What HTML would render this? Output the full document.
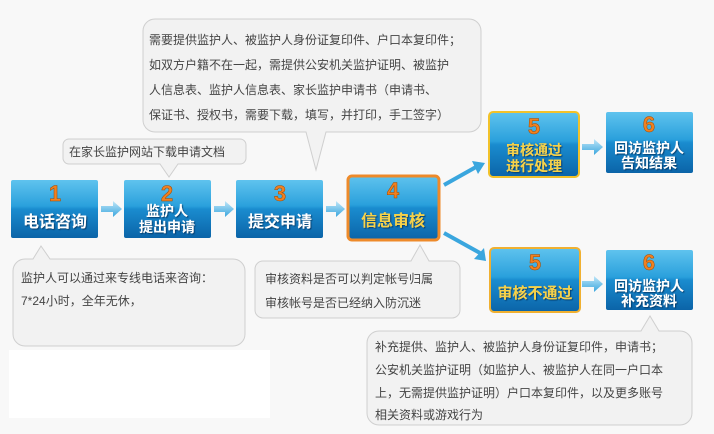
<!DOCTYPE html>
<html><head><meta charset="utf-8"><style>
html,body{margin:0;padding:0;background:#f8f8f8;}
svg{display:block;font-family:"Liberation Sans","Noto Sans CJK SC","WenQuanYi Zen Hei",sans-serif;}
</style></head><body>
<svg width="714" height="434" viewBox="0 0 714 434" xmlns="http://www.w3.org/2000/svg">
<defs>
<linearGradient id="bg" x1="0" y1="0" x2="0" y2="1">
<stop offset="0" stop-color="#5fc3ee"/><stop offset="0.45" stop-color="#2aa0dc"/><stop offset="0.5" stop-color="#1a8ccf"/><stop offset="1" stop-color="#0b64a8"/>
</linearGradient>
<linearGradient id="ar" x1="0" y1="0" x2="0" y2="1"><stop offset="0" stop-color="#bfe6f8"/><stop offset="1" stop-color="#3aa6de"/></linearGradient>
<filter id="sh" x="-10%" y="-10%" width="130%" height="140%"><feDropShadow dx="1" dy="1" stdDeviation="0.6" flood-color="#00325a" flood-opacity="0.8"/></filter>
</defs>
<rect x="9" y="350" width="261" height="68" fill="#fff"/>
<g fill="#f2f2f2" stroke="#cfcfcf" stroke-width="1">
<path d="M155,19 H469 a12,12 0 0 1 12,12 V120 a12,12 0 0 1 -12,12 H326 L316,170 L306,132 H155 a12,12 0 0 1 -12,-12 V31 a12,12 0 0 1 12,-12 Z"/>
<path d="M69,139 H240 a6,6 0 0 1 6,6 V158 a6,6 0 0 1 -6,6 H178 L169,177 L160,164 H69 a6,6 0 0 1 -6,-6 V145 a6,6 0 0 1 6,-6 Z"/>
<path d="M25,259 H33 L41,246 L50,259 H233 a12,12 0 0 1 12,12 V334 a12,12 0 0 1 -12,12 H25 a12,12 0 0 1 -12,-12 V271 a12,12 0 0 1 12,-12 Z"/>
<path d="M263,261 H411 L420,245 L429,261 H452 a8,8 0 0 1 8,8 V310 a8,8 0 0 1 -8,8 H263 a8,8 0 0 1 -8,-8 V269 a8,8 0 0 1 8,-8 Z"/>
<path d="M379,331 H641 L650,316 L659,331 H680 a12,12 0 0 1 12,12 V413 a12,12 0 0 1 -12,12 H379 a12,12 0 0 1 -12,-12 V343 a12,12 0 0 1 12,-12 Z"/>
</g>
<g font-size="12" fill="#444">
<text x="149" y="44">需要提供监护人、被监护人身份证复印件、户口本复印件；</text>
<text x="149" y="69">如双方户籍不在一起，需提供公安机关监护证明、被监护</text>
<text x="149" y="94">人信息表、监护人信息表、家长监护申请书（申请书、</text>
<text x="149" y="119">保证书、授权书，需要下载，填写，并打印，手工签字）</text>
<text x="69" y="156">在家长监护网站下载申请文档</text>
<text x="21" y="282">监护人可以通过来专线电话来咨询：</text>
<text x="21" y="305">7*24小时，全年无休，</text>
<text x="265" y="283">审核资料是否可以判定帐号归属</text>
<text x="265" y="307">审核帐号是否已经纳入防沉迷</text>
<text x="375" y="351">补充提供、监护人、被监护人身份证复印件，申请书；</text>
<text x="375" y="374">公安机关监护证明（如监护人、被监护人在同一户口本</text>
<text x="375" y="397">上，无需提供监护证明）户口本复印件，以及更多账号</text>
<text x="375" y="419">相关资料或游戏行为</text>
</g>
<g fill="url(#ar)">
<path d="M101,206 h12 v-5 l9,8 l-9,8 v-5 h-12 z"/>
<path d="M214,206 h11 v-5 l9,8 l-9,8 v-5 h-11 z"/>
<path d="M326,206 h10 v-5 l9,8 l-9,8 v-5 h-10 z"/>
<path d="M582,144 h12 v-5 l9,8 l-9,8 v-5 h-12 z"/>
<path d="M582,281 h12 v-5 l9,8 l-9,8 v-5 h-12 z"/>
</g>
<g stroke="#3aa6de" stroke-width="4" fill="none">
<line x1="444" y1="185" x2="476" y2="167"/>
<line x1="444" y1="233" x2="480" y2="253"/>
</g>
<path d="M472,161 l13,2 l-7,11 z" fill="#3aa6de"/>
<path d="M474,259 l10,-11 l2,13 z" fill="#3aa6de"/>
<g>
<rect x="11" y="180" width="87" height="58" rx="2" fill="url(#bg)"/>
<rect x="124" y="180" width="87" height="58" rx="2" fill="url(#bg)"/>
<rect x="236" y="180" width="87" height="58" rx="2" fill="url(#bg)"/>
<rect x="348" y="176" width="91" height="64" rx="4" fill="url(#bg)" stroke="#ee8a2a" stroke-width="3"/>
<rect x="489" y="112" width="90" height="65" rx="4" fill="url(#bg)" stroke="#f2c22a" stroke-width="2"/>
<rect x="606" y="112" width="87" height="61" rx="2" fill="url(#bg)"/>
<rect x="490" y="248" width="90" height="64" rx="4" fill="url(#bg)" stroke="#f0b030" stroke-width="2"/>
<rect x="606" y="250" width="87" height="60" rx="2" fill="url(#bg)"/>
</g>
<g font-weight="bold" font-size="22" fill="#f08020" stroke="#a04a00" stroke-width="0.5" text-anchor="middle" font-family="Liberation Sans,sans-serif">
<text x="55" y="201">1</text><text x="167" y="201">2</text><text x="280" y="201">3</text>
<text x="393" y="198">4</text><text x="534" y="134">5</text><text x="649" y="132">6</text>
<text x="535" y="270">5</text><text x="649" y="270">6</text>
</g>
<g font-weight="bold" fill="#fff" text-anchor="middle" filter="url(#sh)">
<text x="55" y="227" font-size="16">电话咨询</text>
<text x="167" y="216" font-size="14">监护人</text>
<text x="167" y="232" font-size="14">提出申请</text>
<text x="280" y="227" font-size="16">提交申请</text>
<text x="393" y="226" font-size="16" fill="#f6d24a">信息审核</text>
<text x="534" y="155" font-size="14" fill="#f6d24a">审核通过</text>
<text x="534" y="171" font-size="14" fill="#f6d24a">进行处理</text>
<text x="649" y="153" font-size="14">回访监护人</text>
<text x="649" y="168" font-size="14">告知结果</text>
<text x="535" y="298" font-size="15" fill="#f6d24a">审核不通过</text>
<text x="649" y="291" font-size="14">回访监护人</text>
<text x="649" y="306" font-size="14">补充资料</text>
</g>
</svg>
</body></html>
